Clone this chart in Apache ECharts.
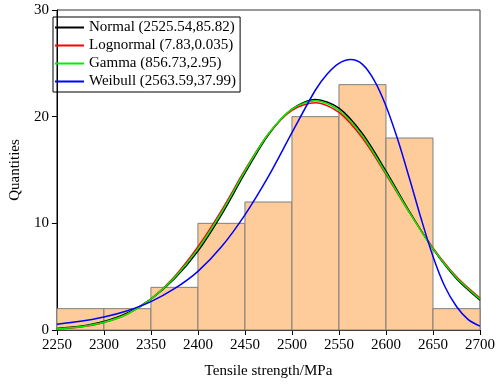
<!DOCTYPE html>
<html>
<head>
<meta charset="utf-8">
<script src="https://cdn.jsdelivr.net/npm/echarts@6/dist/echarts.min.js"></script>
<style>
  html, body { margin: 0; padding: 0; background: #fff; }
  #chart { width: 498px; height: 384px; }
</style>
</head>
<body>
<div id="chart"></div>
<script>
// histogram bins (start of each 50 MPa bin) and counts
var binStarts = [2250, 2300, 2350, 2400, 2450, 2500, 2550, 2600, 2650];
var binWidth = 50;
var counts = [2, 2, 4, 10, 12, 20, 23, 18, 2];

var xs = [2250, 2275, 2300, 2325, 2350, 2375, 2400, 2425, 2450, 2475, 2500, 2525, 2550, 2575, 2600, 2625, 2650, 2675, 2700];
var normalVals = [0.15, 0.35, 0.8, 1.6, 2.9, 4.8, 7.4, 10.8, 14.7, 18.3, 20.7, 21.6, 20.8, 18.4, 14.9, 11.1, 7.6, 4.8, 2.8];
var lognormalVals = [0.1, 0.28, 0.7, 1.5, 2.9, 5.0, 7.8, 11.2, 15.0, 18.4, 20.6, 21.3, 20.4, 18.0, 14.6, 11.0, 7.7, 5.0, 3.0];
var gammaVals = [0.1, 0.3, 0.72, 1.5, 2.9, 4.9, 7.6, 11.0, 14.9, 18.4, 20.7, 21.5, 20.6, 18.2, 14.7, 11.0, 7.6, 4.9, 2.9];

// weibull is steeper, read at a finer step
var weibullXs = [2250, 2275, 2300, 2325, 2350, 2375, 2400, 2425, 2450, 2475, 2500, 2525, 2537.5, 2550, 2562.5, 2575, 2587.5, 2600, 2612.5, 2625, 2637.5, 2650, 2662.5, 2675, 2687.5, 2700];
var weibullVals = [0.55, 0.82, 1.22, 1.81, 2.66, 3.87, 5.5, 7.8, 10.8, 14.4, 18.5, 22.5, 24.0, 25.0, 25.35, 24.9, 23.4, 21.0, 17.85, 14.2, 10.4, 6.9, 4.1, 2.2, 0.97, 0.36];

var names = ['Normal (2525.54,85.82)', 'Lognormal (7.83,0.035)', 'Gamma (856.73,2.95)', 'Weibull (2563.59,37.99)'];
var colors = ['#000000', '#ff0000', '#00ee00', '#0000ff'];

var yTicks = [0, 10, 20, 30];

function pairs(x, vals) {
  return x.map(function (v, i) { return [v, vals[i]]; });
}

var histData = binStarts.map(function (s, i) { return [s, s + binWidth, counts[i]]; });

var chart = echarts.init(document.getElementById('chart'));
var font = 'Liberation Serif, Times New Roman, serif';

function curve(name, x, vals, color) {
  return {
    name: name,
    type: 'line',
    data: pairs(x, vals),
    smooth: 0.3,
    symbol: 'none',
    lineStyle: { color: color, width: 1.5 },
    itemStyle: { color: color },
    z: 5
  };
}

var option = {
  animation: false,
  grid: {
    left: 44, right: 16, top: 10, bottom: 50,
    show: true, borderColor: '#333', borderWidth: 1
  },
  legend: {
    left: 53, top: 17,
    orient: 'vertical',
    data: names,
    icon: 'rect',
    itemWidth: 29, itemHeight: 2, itemGap: 3,
    borderColor: '#000', borderWidth: 1,
    padding: [3, 4, 3, 2],
    textStyle: { fontFamily: font, fontSize: 15, color: '#000' }
  },
  xAxis: {
    type: 'value',
    min: 2250, max: 2700, interval: 50,
    name: 'Tensile strength/MPa',
    nameLocation: 'middle', nameGap: 34,
    nameTextStyle: { fontFamily: font, fontSize: 15, color: '#000' },
    axisLine: { lineStyle: { color: '#000' } },
    axisTick: { show: true, inside: false, length: 5, lineStyle: { color: '#000' } },
    axisLabel: {
      fontFamily: font, fontSize: 15, color: '#000', margin: 8,
      formatter: function (v) { return String(v); }
    },
    splitLine: { show: false }
  },
  yAxis: {
    type: 'value',
    min: yTicks[0], max: yTicks[yTicks.length - 1], interval: 10,
    name: 'Quantities',
    nameLocation: 'middle', nameGap: 28,
    nameTextStyle: { fontFamily: font, fontSize: 15, color: '#000' },
    axisLine: { show: true, lineStyle: { color: '#000' } },
    axisTick: { show: true, inside: false, length: 5, lineStyle: { color: '#000' } },
    axisLabel: { fontFamily: font, fontSize: 15, color: '#000', margin: 8 },
    splitLine: { show: false }
  },
  series: [
    {
      type: 'custom',
      data: histData,
      encode: { x: [0, 1], y: 2 },
      renderItem: function (params, api) {
        var p0 = api.coord([api.value(0), api.value(2)]);
        var p1 = api.coord([api.value(1), 0]);
        return {
          type: 'rect',
          shape: { x: p0[0], y: p0[1], width: p1[0] - p0[0], height: p1[1] - p0[1] },
          style: { fill: '#fecb9a', stroke: '#7f7f7f', lineWidth: 1 }
        };
      },
      z: 1
    },
    curve(names[0], xs, normalVals, colors[0]),
    curve(names[1], xs, lognormalVals, colors[1]),
    curve(names[2], xs, gammaVals, colors[2]),
    curve(names[3], weibullXs, weibullVals, colors[3])
  ]
};

chart.setOption(option);
</script>
</body>
</html>
